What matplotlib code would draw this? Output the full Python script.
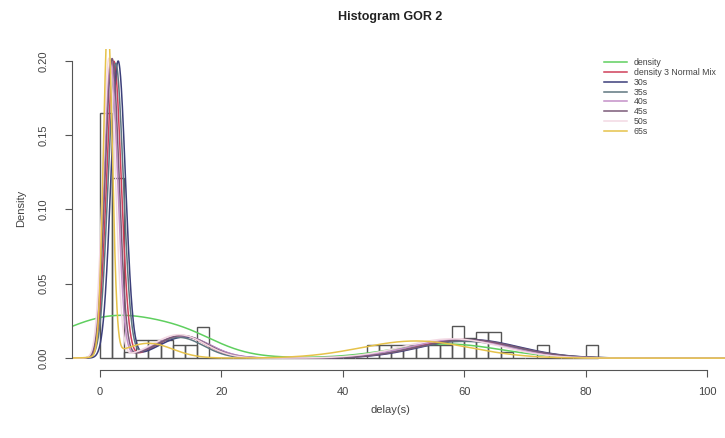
import numpy as np
import matplotlib
matplotlib.use("Agg")
import matplotlib.pyplot as plt

plt.rcParams['font.family'] = ['Liberation Sans', 'DejaVu Sans']

# Histogram (density scale), bins of width 2 starting at 0
BIN_WIDTH = 2
bin_left = np.arange(0, 82, BIN_WIDTH)
hist_density = [0.165, 0.121, 0.004, 0.012, 0.012, 0.012, 0.009, 0.009, 0.021,
                0, 0, 0, 0, 0, 0, 0, 0, 0, 0, 0, 0, 0,
                0.0088, 0.0088, 0.0088, 0.0088, 0.0088, 0.0088, 0.0088,
                0.0218, 0.0132, 0.0176, 0.0176, 0.0044,
                0, 0, 0.0088, 0, 0, 0, 0.0088]

# Fitted curves: (weight, mean, sd) per normal component
series_names = ['density', 'density 3 Normal Mix', '30s', '35s', '40s', '45s', '50s', '65s']
series_colors = ['#5fcf5f', '#d0405a', '#3c3f7a', '#5f7680', '#c48fc8', '#7a5a78', '#f3d9e3', '#e6c24a']
weights = [[0.714, 0.063, 0.214],
           [0.60, 0.15, 0.25],
           [0.60, 0.15, 0.25],
           [0.62, 0.14, 0.24],
           [0.55, 0.17, 0.25],
           [0.58, 0.16, 0.25],
           [0.53, 0.17, 0.26],
           [0.42, 0.10, 0.26]]
means = [[3.0, 15.0, 57.0],
         [2.3, 13.5, 60.0],
         [3.0, 14.0, 61.0],
         [2.6, 13.0, 60.0],
         [1.8, 13.5, 59.0],
         [2.0, 13.5, 60.5],
         [1.5, 13.0, 58.0],
         [1.3, 8.0, 52.0]]
sds = [[10.0, 5.0, 9.0],
       [1.2, 4.0, 8.0],
       [1.2, 4.2, 8.0],
       [1.25, 4.0, 8.5],
       [1.1, 4.5, 8.0],
       [1.15, 4.2, 8.0],
       [1.05, 4.3, 8.0],
       [0.75, 4.0, 9.0]]


def mix_density(x, w, m, s):
    w, m, s = np.asarray(w), np.asarray(m), np.asarray(s)
    z = (x[:, None] - m) / s
    return (w * np.exp(-0.5 * z ** 2) / (s * np.sqrt(2 * np.pi))).sum(axis=1)


W, H = 725, 438
fig = plt.figure(figsize=(W / 100, H / 100), dpi=100)
# plot region in pixels: left 72, right 826 (cropped), top 49, bottom 370
ax = fig.add_axes([72 / W, (H - 370) / H, (826 - 72) / W, (370 - 49) / H])
ax.set_xlim(-4.6, 119.6)
ax.set_ylim(-0.008, 0.208)

ax.bar(bin_left, hist_density, width=BIN_WIDTH, align='edge', fill=False,
       edgecolor='#555555', linewidth=1.0)

xs = np.linspace(-6, 121, 3000)
for name, col, w, m, s in zip(series_names, series_colors, weights, means, sds):
    ax.plot(xs, mix_density(xs, w, m, s), color=col, linewidth=1.1, label=name)

for side in ['top', 'right']:
    ax.spines[side].set_visible(False)
ax.spines['bottom'].set_bounds(0, 100)
ax.spines['left'].set_bounds(0, 0.2)
for side in ['bottom', 'left']:
    ax.spines[side].set_color('#555555')
ax.set_xticks([0, 20, 40, 60, 80, 100])
ax.set_yticks([0.0, 0.05, 0.10, 0.15, 0.20])
ax.set_yticklabels(['0.00', '0.05', '0.10', '0.15', '0.20'], rotation=90, va='center')
ax.tick_params(axis='x', length=5, color='#555555', labelsize=8, labelcolor='#444444', pad=7)
ax.tick_params(axis='y', length=5, color='#555555', labelsize=8, labelcolor='#444444', pad=12)

fig.text(390 / W, 1 - 17 / H, 'Histogram GOR 2', ha='center', va='center',
         fontsize=9, fontweight='bold', color='#222222')
fig.text(390 / W, 1 - 410 / H, 'delay(s)', ha='center', va='center', fontsize=8, color='#444444')
fig.text(21 / W, 1 - 208 / H, 'Density', ha='center', va='center', rotation=90,
         fontsize=8, color='#444444')

fig.legend(loc='upper left', bbox_to_anchor=(604 / W, 1 - 58 / H), frameon=False,
           fontsize=6.3, handlelength=2.6, handletextpad=0.8, labelspacing=0.1,
           borderpad=0, borderaxespad=0, labelcolor='#444444')

fig.savefig('out.png', dpi=100)
